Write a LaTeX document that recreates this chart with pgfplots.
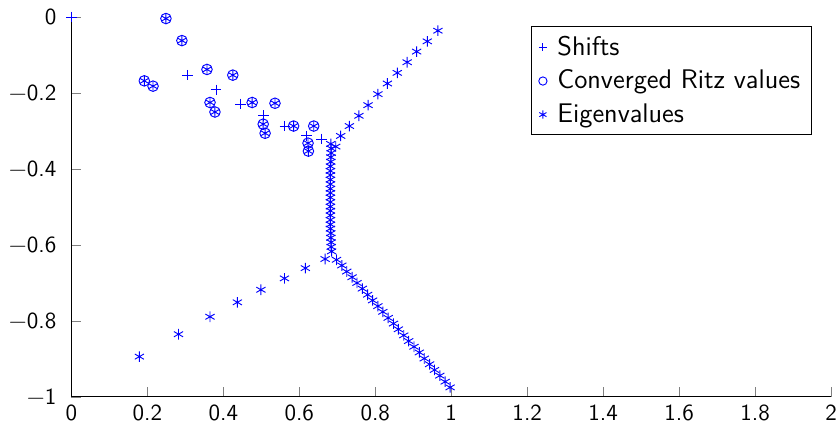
\documentclass[border=0pt]{standalone}
\usepackage{pgfplots}
\pgfplotsset{compat=1.18}
\renewcommand{\familydefault}{\sfdefault}
\begin{document}
\begin{tikzpicture}
\begin{axis}[
  scale only axis,
  width=330pt, height=165pt,
  xmin=0, xmax=2, ymin=-1, ymax=0,
  axis x line=bottom, axis y line=left,
  axis line style={-, black},
  tick align=inside,
  tick style={color=gray},
  xtick={0,0.2,0.4,0.6,0.8,1,1.2,1.4,1.6,1.8,2},
  xticklabels={0,0.2,0.4,0.6,0.8,1,1.2,1.4,1.6,1.8,2},
  ytick={-1,-0.8,-0.6,-0.4,-0.2,0},
  yticklabels={−1,−0.8,−0.6,−0.4,−0.2,0},
  ticklabel style={font=\sffamily},
  yticklabel style={xshift=-3pt},
  legend style={font=\sffamily\fontsize{11.7}{14}\selectfont, at={(0.975,0.976)}, anchor=north east, draw=black, row sep=0.9pt,
    /tikz/every odd column/.append style={column sep=2.5pt}},
  legend image post style={mark size=1.8pt},
  legend cell align=left,
  mark size=2.3pt,
  clip=false,
]
\addplot[only marks, mark=+, color=blue] coordinates {
(0,0) (0.305,-0.153) (0.381,-0.192) (0.446,-0.229) (0.506,-0.26)
(0.562,-0.287) (0.619,-0.313) (0.659,-0.321)
};
\addlegendentry{Shifts}
\addplot[only marks, mark=o, color=blue] coordinates {
(0.249,-0.004) (0.291,-0.062) (0.192,-0.168) (0.215,-0.182)
(0.357,-0.138) (0.425,-0.153) (0.365,-0.225) (0.378,-0.25)
(0.476,-0.225) (0.536,-0.227) (0.505,-0.282) (0.51,-0.306)
(0.585,-0.287) (0.638,-0.287) (0.623,-0.332) (0.624,-0.353)
};
\addlegendentry{Converged Ritz values}
\addplot[only marks, mark=asterisk, color=blue] coordinates {
(0.249,-0.004) (0.291,-0.062) (0.192,-0.168) (0.215,-0.182)
(0.357,-0.138) (0.425,-0.153) (0.365,-0.225) (0.378,-0.25)
(0.476,-0.225) (0.536,-0.227) (0.505,-0.282) (0.51,-0.306)
(0.585,-0.287) (0.638,-0.287) (0.623,-0.332) (0.624,-0.353)
(0.965,-0.036) (0.937,-0.064) (0.909,-0.091) (0.884,-0.119)
(0.858,-0.147) (0.832,-0.175) (0.807,-0.203) (0.781,-0.232)
(0.757,-0.26) (0.732,-0.287) (0.709,-0.313) (0.696,-0.341)
(0.683,-0.334) (0.684,-0.346) (0.684,-0.358) (0.683,-0.369)
(0.683,-0.381) (0.682,-0.393) (0.682,-0.405) (0.682,-0.416)
(0.682,-0.428) (0.682,-0.440) (0.682,-0.452) (0.682,-0.463)
(0.682,-0.475) (0.682,-0.487) (0.682,-0.499) (0.682,-0.510)
(0.682,-0.522) (0.682,-0.534) (0.682,-0.546) (0.682,-0.557)
(0.683,-0.569) (0.683,-0.581) (0.684,-0.593) (0.684,-0.605)
(0.685,-0.617)
(0.698,-0.639) (0.712,-0.654) (0.725,-0.670) (0.739,-0.685)
(0.752,-0.700) (0.766,-0.715) (0.780,-0.731) (0.793,-0.746)
(0.807,-0.761) (0.820,-0.776) (0.834,-0.792) (0.848,-0.807)
(0.861,-0.822) (0.875,-0.838) (0.888,-0.853) (0.902,-0.868)
(0.916,-0.883) (0.929,-0.899) (0.943,-0.914) (0.956,-0.929)
(0.970,-0.944) (0.984,-0.960) (0.997,-0.975)
(0.179,-0.894) (0.282,-0.835) (0.365,-0.789) (0.437,-0.751)
(0.499,-0.718) (0.561,-0.688) (0.616,-0.661) (0.668,-0.637)
};
\addlegendentry{Eigenvalues}
\end{axis}
\pgfresetboundingbox
\path ([shift={(-31pt,-11.7pt)}]current axis.south west) rectangle ([shift={(3pt,7.4pt)}]current axis.north east);
\end{tikzpicture}
\end{document}
